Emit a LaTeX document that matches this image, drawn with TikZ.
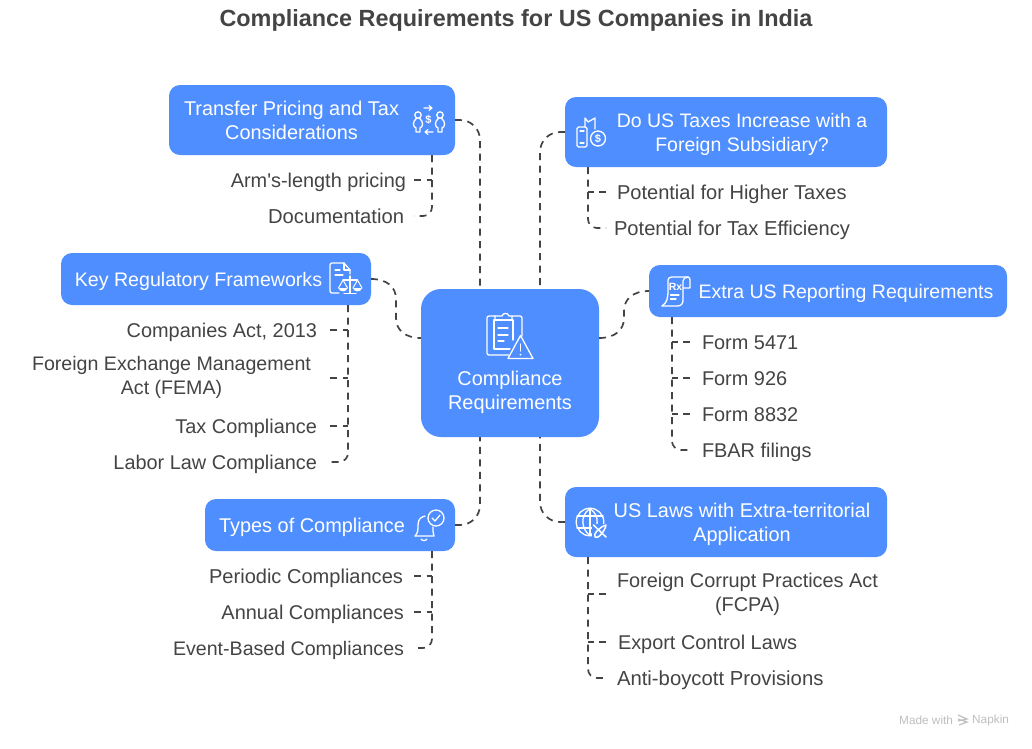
\documentclass[tikz,border=0pt]{standalone}
\usepackage{fontspec}
\setmainfont{Liberation Sans}
\newfontfamily\plainf{Liberation Sans}
\usetikzlibrary{calc}
\definecolor{blu}{HTML}{4F8EFF}
\definecolor{ink}{HTML}{444444}
\newcommand{\mst}{\rule[-4.4pt]{0pt}{23.4pt}}
\newcommand{\btxt}[3]{\makebox[#1pt][l]{\hspace*{#2pt}\parbox[c]{330pt}{\centering #3}}}
\newcommand{\fs}[1]{\fontsize{#1}{24}\selectfont}
\tikzset{
  x=1pt,y=-1pt,
  bluebox/.style={fill=blu,rounded corners=11pt,inner sep=0pt,outer sep=0pt,text=white,font=\fs{19.9}},
  itemL/.style={anchor=east,inner ysep=0pt,outer sep=0pt,text=ink,align=center,font=\fs{19.9},execute at begin node=\mst},
  itemR/.style={itemL,anchor=west},
  conn/.style={draw=ink,line width=1.7pt,dash pattern=on 7pt off 5.5pt},
  curved/.style={conn,rounded corners=20pt},
  lastc/.style={conn,rounded corners=9pt},
  icon/.style={draw=white,line width=1.3pt,line cap=round,line join=round,fill=none}
}
\newcommand{\person}[2]{%
  \draw[icon] (#1,#2) circle (3.2);
  \draw[icon] (#1-1.5,#2+3.2) .. controls (#1-6,#2+7) and (#1-5,#2+12) .. (#1-2,#2+13) -- (#1-2,#2+17) -- (#1+2,#2+17) -- (#1+2,#2+13) .. controls (#1+5,#2+12) and (#1+6,#2+7) .. (#1+1.5,#2+3.2);
}
\newcommand{\pan}[2]{%
  \draw[icon,line width=1pt] (#1-4.5,#2+8) -- (#1,#2) -- (#1+4.5,#2+8);
  \fill[white] (#1-4.5,#2+8) .. controls (#1-4,#2+12.5) and (#1+4,#2+12.5) .. (#1+4.5,#2+8) -- cycle;
}
\begin{document}
\begin{tikzpicture}
\useasboundingbox (0,0) rectangle (1032,748);
\fill[white] (0,0) rectangle (1032,748);

\node[text=ink,font=\bfseries\fontsize{23.4}{28}\selectfont,inner sep=0pt] (title) at (516,20) {Compliance Requirements for US Companies in India};

% boxes
\node[bluebox,rounded corners=20pt,minimum width=178pt,minimum height=148pt] (center) at (510,363)
  {\btxt{178}{-76}{\vspace*{54pt}\mst Compliance\\Requirements\mst}};
\node[bluebox,minimum width=286pt,minimum height=70pt] (transfer) at (312,120)
  {\btxt{286}{-42.5}{\mst Transfer Pricing and Tax\\Considerations\mst}};
\node[bluebox,font=\fs{19.5},minimum width=322pt,minimum height=70pt] (dous) at (726,132)
  {\btxt{322}{12}{\mst Do US Taxes Increase with a\\Foreign Subsidiary?\mst}};
\node[bluebox,font=\fs{19.6},minimum width=310pt,minimum height=52pt] (keyreg) at (216,279)
  {\btxt{310}{-27.5}{\mst Key Regulatory Frameworks\mst}};
\node[bluebox,font=\fs{19.5},minimum width=358pt,minimum height=52pt] (extra) at (828,291)
  {\btxt{358}{32}{\mst Extra US Reporting Requirements\mst}};
\node[bluebox,minimum width=250pt,minimum height=52pt] (types) at (330,525)
  {\btxt{250}{-58}{\mst Types of Compliance\mst}};
\node[bluebox,minimum width=322pt,minimum height=70pt] (laws) at (726,522)
  {\btxt{322}{12}{\mst US Laws with Extra-territorial\\Application\mst}};

% items
\node[itemL,inner xsep=8pt] (t1) at (414,180) {Arm{\plainf '}s-length pricing};
\node[itemL,inner xsep=10pt,font=\fs{20.2}] (t2) at (414,216) {Documentation};
\node[itemL,inner xsep=13pt] (k1) at (330,330) {Companies Act, 2013};
\node[itemL,inner xsep=19pt,font=\fs{19.6}] (k2) at (330,378) {Foreign Exchange Management\\Act (FEMA)\mst};
\node[itemL,inner xsep=13pt] (k3) at (330,426) {Tax Compliance};
\node[itemL,inner xsep=13pt] (k4) at (330,462) {Labor Law Compliance};
\node[itemL,inner xsep=11pt,font=\fs{20.05}] (y1) at (414,576) {Periodic Compliances};
\node[itemL,inner xsep=10pt] (y2) at (414,612) {Annual Compliances};
\node[itemL,inner xsep=10pt,font=\fs{19.6}] (y3) at (414,648) {Event-Based Compliances};
\node[itemR,inner xsep=11pt,font=\fs{20.05}] (d1) at (606,192) {Potential for Higher Taxes};
\node[itemR,inner xsep=8pt,font=\fs{20.15}] (d2) at (606,228) {Potential for Tax Efficiency};
\node[itemR,inner xsep=12pt] (e1) at (690,342) {Form 5471};
\node[itemR,inner xsep=12pt] (e2) at (690,378) {Form 926};
\node[itemR,inner xsep=12pt] (e3) at (690,414) {Form 8832};
\node[itemR,inner xsep=12pt] (e4) at (690,450) {FBAR filings};
\node[itemR,inner xsep=11pt] (l1) at (606,594) {Foreign Corrupt Practices Act\\(FCPA)\mst};
\node[itemR,inner xsep=12pt] (l2) at (606,642) {Export Control Laws};
\node[itemR,inner xsep=11pt,font=\fs{20.3}] (l3) at (606,678) {Anti-boycott Provisions};

% main connectors
\draw[curved] (transfer.east) -| ($(center.north)+(-30,0)$);
\draw[curved] (dous.west) -| ($(center.north)+(30,0)$);
\draw[curved] (types.east) -| ($(center.south)+(-30,0)$);
\draw[curved] (laws.west) -| ($(center.south)+(30,0)$);
\coordinate (cw) at ($(center.west)+(0,-25)$);
\coordinate (ce) at ($(center.east)+(0,-25)$);
\coordinate (km1) at (396,299); \coordinate (km2) at (396,318);
\coordinate (em1) at (624,318); \coordinate (em2) at (624,311);
\draw[conn] (keyreg.east) .. controls (387,279) and (396,287) .. (km1) -- (km2) .. controls (396,330) and (405,338) .. (cw);
\draw[conn] (ce) .. controls (615,338) and (624,330) .. (em1) -- (em2) .. controls (624,299) and (633,291) .. (extra.west);

% child connectors: spine to last child, then stubs from each other child
\coordinate (st) at ($(transfer.south)+(120,0)$);
\coordinate (sk) at ($(keyreg.south)+(132,0)$);
\coordinate (sy) at ($(types.south)+(102,0)$);
\coordinate (sd) at ($(dous.south)+(-138,0)$);
\coordinate (se) at ($(extra.south)+(-156,0)$);
\coordinate (sl) at ($(laws.south)+(-138,0)$);
\draw[lastc] (st) |- (t2.east);
\draw[conn] (t1.east) -- (t1.east -| st);
\draw[lastc] (sk) |- (k4.east);
\draw[conn] (k1.east) -- (k1.east -| sk);
\draw[conn] (k2.east) -- (k2.east -| sk);
\draw[conn] (k3.east) -- (k3.east -| sk);
\draw[lastc] (sy) |- (y3.east);
\draw[conn] (y1.east) -- (y1.east -| sy);
\draw[conn] (y2.east) -- (y2.east -| sy);
\draw[lastc] (sd) |- (d2.west);
\draw[conn] (d1.west) -- (d1.west -| sd);
\draw[lastc] (se) |- (e4.west);
\draw[conn] (e1.west) -- (e1.west -| se);
\draw[conn] (e2.west) -- (e2.west -| se);
\draw[conn] (e3.west) -- (e3.west -| se);
\draw[lastc] (sl) |- (l3.west);
\draw[conn] (l1.west) -- (l1.west -| sl);
\draw[conn] (l2.west) -- (l2.west -| sl);

% icon: transfer
\person{418}{115}
\person{440}{115}
\node[text=white,font=\bfseries\fontsize{11}{11}\selectfont,inner sep=0pt] (ic1) at (428.5,120) {\$};
\draw[icon,line width=1.1pt] (424,108) -- (432,108) (429,105.5) -- (432,108) -- (429,110.5);
\draw[icon,line width=1.1pt] (433,132) -- (425,132) (428,129.5) -- (425,132) -- (428,134.5);

% icon: do us
\draw[icon,rounded corners=1.5pt] (577,127) -- (587,127) -- (587,147) -- (577,147) -- cycle;
\draw[icon] (585,127) -- (585,118) -- (588,122) -- (595,118) -- (595,129);
\draw[icon] (580,131) -- (584,131) (580,143) -- (584,143);
\draw[icon] (598,138.5) circle (7.5);
\node[text=white,font=\bfseries\fontsize{11}{11}\selectfont,inner sep=0pt] (ic2) at (598,138.5) {\$};

% icon: key regulatory
\draw[icon] (339,293) -- (332,293) .. controls (331,293) and (330,292) .. (330,291) -- (330,265) .. controls (330,264) and (331,263) .. (332,263) -- (344,263) -- (350,270) -- (350,274);
\draw[icon] (344,263) -- (344,270) -- (350,270);
\draw[icon] (335,270) -- (340,270) (335,275) -- (343,275);
\draw[icon] (350,276) -- (350,293.5) (344,293.5) -- (356,293.5) (343,280) -- (357.5,280);
\pan{343}{280}
\pan{357.5}{280}

% icon: extra
\draw[icon] (662,306) .. controls (667,303) and (668,298) .. (668,290) -- (668,280) .. controls (668,278) and (670,277) .. (672,277) -- (688,277) .. controls (690,277) and (690,279) .. (690,281) -- (690,288) -- (683,288);
\draw[icon] (688,277) .. controls (685,277) and (683,279) .. (683,281) -- (683,300) .. controls (683,304) and (681,306) .. (677,306) -- (662,306);
\node[text=white,font=\bfseries\fontsize{10.5}{10}\selectfont,inner sep=0pt] (ic4) at (675.5,287) {Rx};
\draw[icon,line width=1.1pt] (670.5,295) -- (679,295) (670.5,299) -- (676,299);

% icon: center
\draw[icon,rounded corners=2pt] (495,316) -- (487,316) -- (487,355) -- (509,355);
\draw[icon,rounded corners=2pt] (512,316) -- (522,316) -- (522,336);
\draw[icon] (495,320) -- (495,316) -- (502,316) .. controls (503,312.5) and (508,312.5) .. (509,316) -- (512,316) -- (512,320);
\draw[icon] (510,349) -- (494,349) -- (494,320) -- (513,320) -- (513,340);
\draw[icon] (498,328) -- (508,328) (498,335) -- (508,335) (498,341) -- (504,341);
\draw[icon] (508,358.5) -- (520.5,335.5) -- (533,358.5) -- cycle;
\draw[icon] (520.5,344) -- (520.5,351);
\fill[white] (520.5,354.5) circle (1);

% icon: types
\draw[icon] (415,536) .. controls (418,533) and (418,530) .. (418,525) .. controls (418,519) and (421,517) .. (425,516);
\draw[icon] (433,527) .. controls (433,531) and (433,534) .. (434,536) -- (415,536);
\draw[icon] (421,539) .. controls (422,541) and (426,541) .. (427,539);
\draw[icon] (436,518) circle (8);
\draw[icon] (432,518) -- (435,521) -- (440,515);

% icon: laws
\draw[icon] (590,522) circle (13.8);
\draw[icon] (590,508.5) .. controls (579,516) and (582,530) .. (590,535.5);
\draw[icon] (590,508.5) .. controls (601,516) and (598,530) .. (590,535.5);
\draw[icon] (590,508.5) -- (590,535.5);
\draw[icon] (577,516) -- (603,516) (577,528) -- (603,528);
\fill[blu] (592,524) rectangle (608.5,540);
\draw[icon,line width=1.5pt] (593.5,525) -- (606,537) (606,525) .. controls (601,526) and (592.5,534) .. (595,537) .. controls (598,539.5) and (605,531) .. (606,525);

% napkin mark
\node[text=black!25,font=\fontsize{11.8}{13}\selectfont,inner sep=0pt,anchor=west] (made) at (899,720) {Made with};
\draw[black!25,line width=1.2pt] (958,715) -- (967,719) -- (958,721) (958,719) -- (967,722) -- (959,725);
\node[text=black!25,font=\fontsize{11.8}{13}\selectfont,inner sep=0pt,anchor=west] (nap) at (972,720) {Napkin};
\end{tikzpicture}
\end{document}
